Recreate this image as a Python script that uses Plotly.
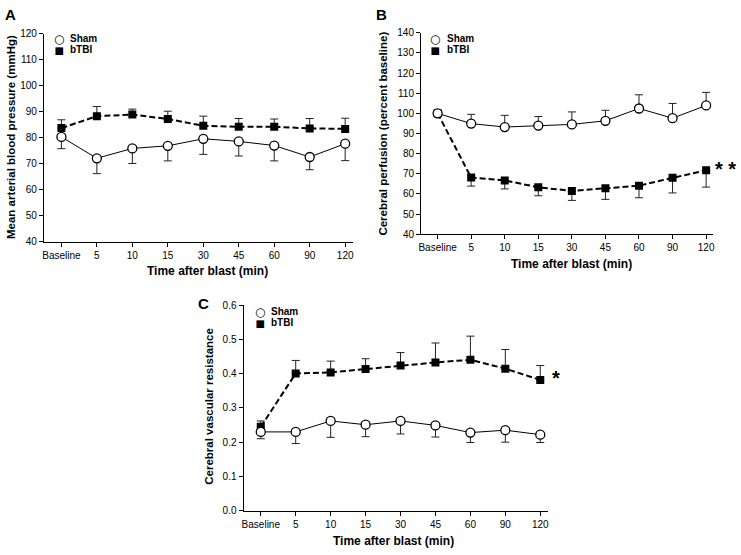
import plotly.graph_objects as go

# x categories shared by all three panels
categories = ["Baseline", "5", "10", "15", "30", "45", "60", "90", "120"]

# A: mean arterial blood pressure (mmHg)
map_sham = [80.3, 72.1, 75.9, 76.9, 79.6, 78.6, 77.0, 72.6, 77.7]
map_sham_err = [4.5, 5.9, 5.8, 5.8, 6.0, 5.6, 5.9, 4.9, 6.5]
map_btbi = [83.7, 88.3, 88.9, 87.2, 84.6, 84.2, 84.2, 83.6, 83.4]
map_btbi_err = [3.2, 3.7, 2.1, 3.0, 3.7, 3.2, 3.0, 3.8, 4.1]

# B: cerebral perfusion (percent baseline)
cbf_sham = [100, 94.9, 93.2, 93.9, 94.5, 96.3, 102.4, 97.6, 103.9]
cbf_sham_err = [0, 4.6, 5.8, 4.5, 6.2, 5.2, 6.8, 7.3, 6.5]
cbf_btbi = [100, 68.1, 66.7, 63.3, 61.5, 62.8, 64.1, 68.0, 71.7]
cbf_btbi_err = [0, 4.2, 4.2, 4.2, 4.7, 5.5, 6.0, 7.5, 8.3]

# C: cerebral vascular resistance
cvr_sham = [0.230, 0.230, 0.262, 0.251, 0.262, 0.249, 0.228, 0.235, 0.222]
cvr_sham_err = [0.020, 0.034, 0.048, 0.035, 0.038, 0.034, 0.029, 0.035, 0.023]
cvr_btbi = [0.245, 0.401, 0.404, 0.414, 0.424, 0.433, 0.441, 0.415, 0.382]
cvr_btbi_err = [0.017, 0.038, 0.033, 0.030, 0.038, 0.057, 0.069, 0.056, 0.042]

W, H = 741, 555
FONT = "Arial, Liberation Sans, sans-serif"


def px(x):
    return x / W


def py(y):
    return 1 - y / H


def err(vals, up):
    zeros = [0] * len(vals)
    if up:
        return dict(type="data", symmetric=False, array=vals, arrayminus=zeros,
                    width=4, thickness=1, color="#222")
    return dict(type="data", symmetric=False, array=zeros, arrayminus=vals,
                width=4, thickness=1, color="#222")


def add_panel(fig, n, sham, sham_err, sham_up, btbi, btbi_err, btbi_up):
    xa = "x" if n == 1 else f"x{n}"
    ya = "y" if n == 1 else f"y{n}"
    # bTBI first so the sham circles sit on top
    fig.add_trace(
        go.Scatter(
            x=categories, y=btbi, xaxis=xa, yaxis=ya,
            mode="lines+markers", showlegend=False,
            line=dict(color="black", width=2, dash="6px,3px"),
            marker=dict(symbol="square", size=8, color="black"),
            error_y=err(btbi_err, btbi_up),
        )
    )
    fig.add_trace(
        go.Scatter(
            x=categories, y=sham, xaxis=xa, yaxis=ya,
            mode="lines+markers", showlegend=False,
            line=dict(color="black", width=1),
            marker=dict(symbol="circle", size=9, color="white",
                        line=dict(color="black", width=1.3)),
            error_y=err(sham_err, sham_up),
        )
    )


fig = go.Figure()
add_panel(fig, 1, map_sham, map_sham_err, False, map_btbi, map_btbi_err, True)
add_panel(fig, 2, cbf_sham, cbf_sham_err, True, cbf_btbi, cbf_btbi_err, False)
add_panel(fig, 3, cvr_sham, cvr_sham_err, False, cvr_btbi, cvr_btbi_err, True)

axis_common = dict(
    showline=True, linecolor="black", linewidth=1.3,
    ticks="outside", ticklen=4, tickwidth=1, tickcolor="black",
    showgrid=False, zeroline=False,
    tickfont=dict(family=FONT, size=10, color="black"),
)
xcommon = dict(axis_common, type="category", range=[-0.49, 8.21])

fig.update_layout(
    width=W, height=H,
    margin=dict(l=0, r=0, t=0, b=0),
    plot_bgcolor="white", paper_bgcolor="white",
    font=dict(family=FONT, color="black"),
    xaxis=dict(xcommon, domain=[px(41.3), px(352)], anchor="y"),
    yaxis=dict(axis_common, domain=[py(241), py(28.3)], anchor="x",
               range=[40, 120], dtick=10),
    xaxis2=dict(xcommon, domain=[px(421), px(715)], anchor="y2"),
    yaxis2=dict(axis_common, domain=[py(233.3), py(27.3)], anchor="x2",
                range=[40, 140], dtick=10),
    xaxis3=dict(xcommon, domain=[px(242.3), px(548.3)], anchor="y3"),
    yaxis3=dict(axis_common, domain=[py(515.7), py(306)], anchor="x3",
                range=[0, 0.6], dtick=0.1, tickformat=".1f"),
)


def note(text, x, y, size, bold=True, angle=0, xanchor="center",
         family=FONT, align="center"):
    fig.add_annotation(
        text=f"<b>{text}</b>" if bold else text,
        x=px(x), y=py(y), xref="paper", yref="paper",
        xanchor=xanchor, yanchor="middle", showarrow=False, textangle=angle,
        align=align, font=dict(family=family, size=size, color="black"),
    )


# panel letters
note("A", 7.5, 9, 15)
note("B", 381.5, 9, 15)
note("C", 201.5, 304.5, 15)

# axis titles
note("Mean arterial blood pressure (mmHg)", 8, 134, 11.5, angle=-90)
note("Cerebral perfusion (percent baseline)", 383, 130, 11.5, angle=-90)
note("Cerebral vascular resistance", 208, 409, 11.5, angle=-90)
note("Time after blast (min)", 206, 270.5, 12)
note("Time after blast (min)", 572, 264, 12)
note("Time after blast (min)", 393, 547, 12)

# legends: symbol column + label column, line gap ~11 px
sym = ("<span style='font-family:DejaVu Sans;font-size:12px'><b>○</b></span><br>"
       "<span style='font-family:DejaVu Sans;font-size:10px'>■</span>")
lab = ("<span style='font-size:10px'><b>Sham</b></span><br>"
       "<span style='font-size:10px'><b>bTBI</b></span>")
for cx, cy, tx in [(56, 39, 65.5), (435, 38.5, 444.5), (258.3, 317.8, 268)]:
    note(sym, cx, cy, 8.5, bold=False, family="DejaVu Sans")
    note(lab, tx, cy, 8.5, bold=False, xanchor="left", align="left")

# significance marks
note("* *", 727, 167, 20)
note("*", 557, 380, 20)

fig.write_html("out.html", config={"displayModeBar": False},
               post_script="document.body.style.margin = '0';")
